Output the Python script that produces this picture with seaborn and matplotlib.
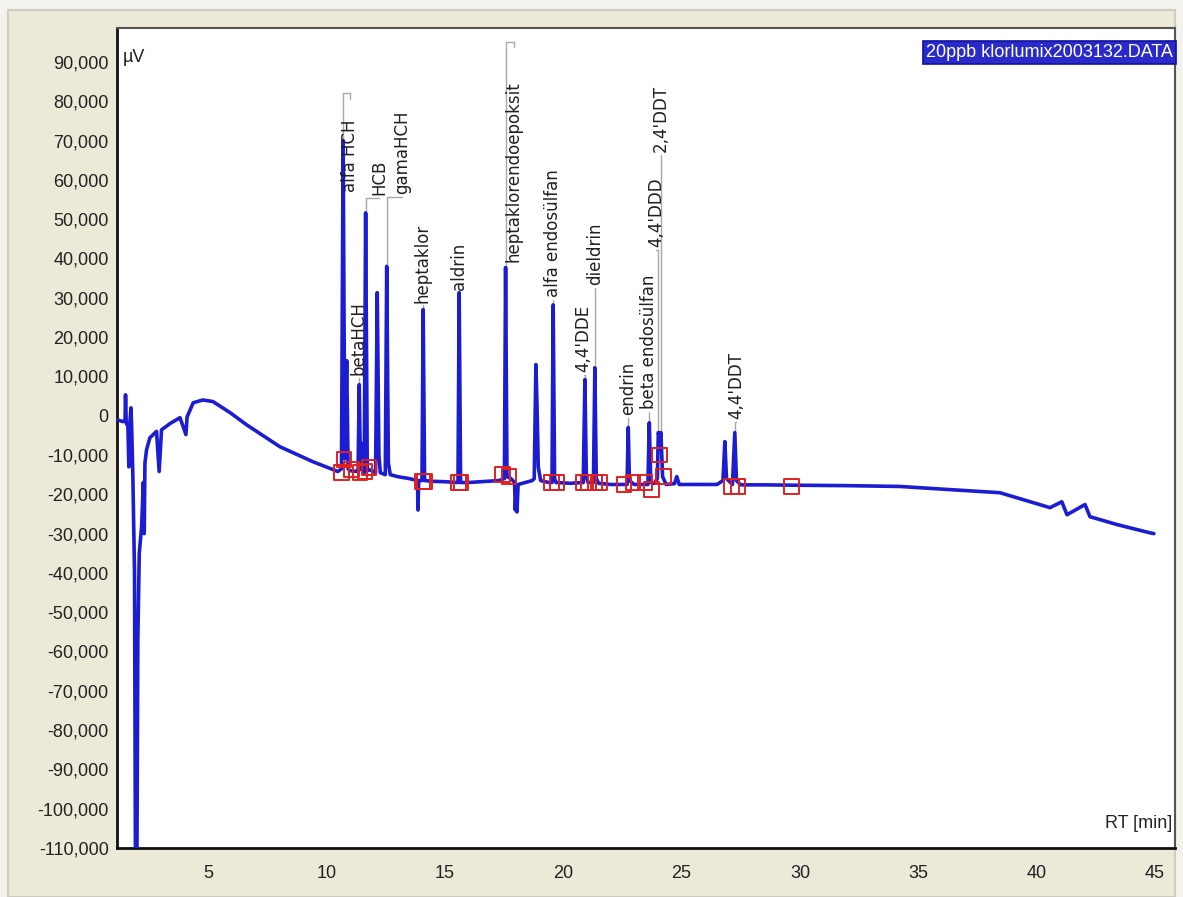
import pandas as pd
import matplotlib.pyplot as plt
import matplotlib.ticker as mticker
from matplotlib.patches import Rectangle
import seaborn as sns

# chromatogram trace (RT in min, signal in uV)
rt_min = [1.16, 1.40, 1.50, 1.52, 1.55, 1.62, 1.66, 1.70, 1.75, 1.78, 1.83, 1.90, 1.94, 2.00,
          2.04, 2.10, 2.20, 2.27, 2.31, 2.34, 2.41, 2.55, 2.83, 2.94, 3.04, 3.40, 3.82, 4.07,
          4.12, 4.38, 4.79, 5.21, 5.93, 6.63, 8.04, 9.43, 10.49, 10.64, 10.71, 10.78, 10.86,
          10.92, 11.00, 11.34, 11.39, 11.44, 11.48, 11.52, 11.60, 11.66, 11.73, 11.85, 12.08,
          12.15, 12.22, 12.28, 12.49, 12.55, 12.62, 12.70, 13.00, 13.50, 13.85, 13.87, 13.90,
          14.04, 14.09, 14.15, 14.50, 15.00, 15.56, 15.61, 15.67, 16.00, 16.50, 17.00, 17.30,
          17.52, 17.57, 17.63, 17.80, 17.95, 17.98, 18.02, 18.05, 18.10, 18.40, 18.70, 18.78,
          18.85, 18.90, 18.95, 19.05, 19.40, 19.53, 19.58, 19.64, 19.70, 20.30, 20.85, 20.92,
          20.98, 21.05, 21.28, 21.34, 21.40, 21.50, 22.00, 22.70, 22.75, 22.80, 23.00, 23.58,
          23.64, 23.70, 23.85, 23.98, 24.02, 24.08, 24.13, 24.20, 24.35, 24.70, 24.80, 24.90,
          25.50, 26.50, 26.75, 26.83, 26.90, 27.15, 27.25, 27.32, 27.50, 28.50, 30.00, 32.00,
          34.20, 36.33, 38.45, 40.56, 41.06, 41.28, 42.04, 42.25, 43.39, 44.78, 44.95]
signal_uv = [-1000, -1500, -1200, 5300, -2000, -2500, -13000, -2000, 2000, -3000, -15500, -40000,
             -115000, -115000, -57000, -35000, -28200, -17000, -30000, -12000, -8600, -5600,
             -4000, -14200, -3600, -2000, -500, -4800, -300, 3300, 4000, 3600, 800, -2300,
             -7900, -11700, -14200, -13500, 70000, -11000, 14000, -13500, -14000, -14200, 7900,
             -13500, -7000, -14000, -14500, 51600, -14000, -13800, -14500, 31300, -10000, -14500,
             -15000, 38000, -12000, -15000, -15500, -16000, -16500, -24000, -16500, -16500, 27000,
             -16500, -16700, -16800, -17000, 31300, -17000, -17000, -16800, -16600, -16500,
             -16000, 37700, -15500, -16000, -17000, -24000, -18500, -24500, -17500, -17000,
             -16500, -16000, 13000, 2000, -13000, -16500, -17000, -17000, 28200, -16000, -17000,
             -17200, -17000, 9200, -15500, -17000, -17000, 12200, -16000, -17200, -17500, -17500,
             -3000, -16500, -17500, -17500, -1800, -17000, -17200, -16000, -4300, -6000, -4300,
             -15500, -17500, -17300, -15500, -17500, -17500, -17500, -16500, -6600, -16000,
             -17500, -4300, -16500, -17600, -17600, -17700, -17800, -18000, -18800, -19600,
             -23400, -21900, -25200, -22600, -25700, -27700, -29800, -30000]

# integration start/end markers
marker_rt = [10.64, 10.74, 11.07, 11.42, 11.63, 11.81, 14.05, 14.15, 15.58, 15.68, 17.45, 17.72,
             19.51, 19.75, 20.85, 21.06, 21.34, 21.55, 22.57, 22.96, 23.45, 23.74, 24.06, 24.23,
             27.12, 27.39, 29.65]
marker_uv = [-14500, -11200, -13700, -14500, -14200, -13200, -16800, -16800, -17000, -17000,
             -15000, -15500, -17000, -17000, -17000, -17000, -17000, -17000, -17500, -17000,
             -17000, -18800, -10000, -15500, -18000, -18000, -18000]

# peak labels
peak_names = ["alfa HCH", "betaHCH", "HCB", "gamaHCH", "heptaklor", "aldrin",
              "heptaklorendoepoksit", "alfa endosülfan", "4,4'DDE", "dieldrin", "endrin",
              "beta endosülfan", "4,4'DDD", "2,4'DDT", "4,4'DDT"]
peak_rt = [10.71, 11.39, 11.66, 12.55, 14.09, 15.61, 17.57, 19.58, 20.92, 21.34, 22.75,
           23.64, 24.02, 24.13, 27.25]
peak_uv = [70000, 7900, 51600, 38000, 27000, 31300, 37700, 28200, 9200, 12200, -3000,
           -1800, -4300, -4300, -4300]
label_rt = [11.02, 11.36, 12.22, 13.21, 14.08, 15.60, 17.92, 19.56, 20.87, 21.34, 22.74,
            23.62, 23.92, 24.13, 27.30]
label_uv = [56200, 9700, 55500, 55700, 28200, 31300, 38400, 29500, 10400, 32600, -500,
            1000, 42200, 66400, -1500]
elbow_uv = [82200, 9700, 55500, 55700, 28200, 31300, 95200, 29500, 10400, 32600, -500,
            1000, 42200, 66400, -1500]

trace = pd.DataFrame({"rt": rt_min, "uv": signal_uv})
marks = pd.DataFrame({"rt": marker_rt, "uv": marker_uv})

sns.set_style("white")
plt.rcParams["font.family"] = ["Liberation Sans", "DejaVu Sans"]
plt.rcParams["axes.unicode_minus"] = False

fig = plt.figure(figsize=(11.83, 8.97), dpi=100, facecolor="#F4F2EC")
fig.patches.append(Rectangle((8 / 1183, 0), 1 - 16 / 1183, 1 - 10 / 897,
                             transform=fig.transFigure, facecolor="#ECE9D8",
                             edgecolor="#CFCBBE", linewidth=1.5, zorder=-1))
ax = fig.add_axes([117 / 1183, 1 - 848 / 897, (1175 - 117) / 1183, (848 - 28) / 897])
ax.set_facecolor("white")

sns.lineplot(data=trace, x="rt", y="uv", ax=ax, color="#1C1CD2", linewidth=2.6,
             estimator=None, sort=False, zorder=3)
sns.scatterplot(data=marks, x="rt", y="uv", ax=ax, marker="s", s=110,
                facecolor="none", edgecolor="#E02020", linewidth=1.4, zorder=4)

# leader lines and rotated peak names
for name, prt, puv, lrt, luv, euv in zip(peak_names, peak_rt, peak_uv,
                                          label_rt, label_uv, elbow_uv):
    ax.plot([prt, prt, lrt], [puv, euv, euv], color="#A8A8A8", linewidth=1.0, zorder=2)
    if euv > luv:
        ax.plot([lrt, lrt], [euv, euv - 1500], color="#A8A8A8", linewidth=1.0, zorder=2)
    ax.text(lrt, luv + 600, name, rotation=90, ha="center", va="bottom",
            fontsize=12, family="DejaVu Sans", color="#202020", zorder=5)

ax.set_xlim(1.16, 45.84)
ax.set_ylim(-110000, 98650)
ax.xaxis.set_major_locator(mticker.MultipleLocator(5))
ax.xaxis.set_minor_locator(mticker.MultipleLocator(1))
ax.yaxis.set_major_locator(mticker.MultipleLocator(10000))
ax.yaxis.set_minor_locator(mticker.MultipleLocator(2000))
ax.yaxis.set_major_formatter(mticker.StrMethodFormatter("{x:,.0f}"))
ax.tick_params(axis="both", which="major", labelsize=13, colors="#222222",
               length=8, width=1.3, direction="out", pad=2)
ax.tick_params(axis="both", which="minor", length=4, width=1.0, color="#222222",
               direction="out")
ax.tick_params(axis="y", which="both", direction="inout")
ax.tick_params(axis="x", which="major", pad=4)
ax.set_xlabel("")
ax.set_ylabel("")
for side in ["left", "bottom"]:
    ax.spines[side].set_color("#111111")
    ax.spines[side].set_linewidth(2.0)
for side in ["top", "right"]:
    ax.spines[side].set_color("#555555")
    ax.spines[side].set_linewidth(1.5)

ax.text(0.005, 0.975, "µV", transform=ax.transAxes, ha="left", va="top",
        fontsize=13, color="#222222")
ax.text(0.997, 0.02, "RT [min]", transform=ax.transAxes, ha="right", va="bottom",
        fontsize=13, color="#222222")
ax.text(0.998, 0.97, "20ppb klorlumix2003132.DATA", transform=ax.transAxes,
        ha="right", va="center", fontsize=13, color="white",
        bbox=dict(boxstyle="square,pad=0.15", facecolor="#2A2ACB", edgecolor="#1010A0",
                  linewidth=1.2))

fig.savefig("out.png", dpi=100, facecolor=fig.get_facecolor())
